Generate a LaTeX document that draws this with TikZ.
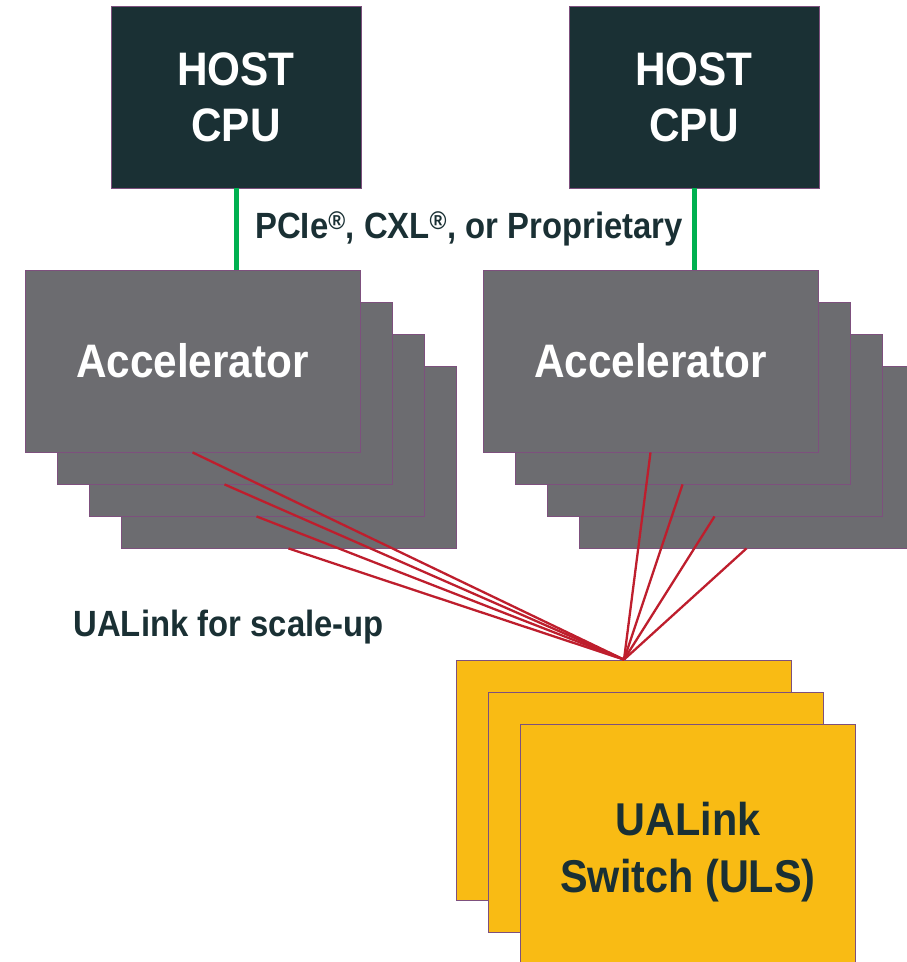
\documentclass[tikz,border=0pt]{standalone}
\usepackage{fontspec}
\newfontfamily\diagfont{Liberation Sans}[FakeStretch=0.9]
\usepackage{tikz}
\usetikzlibrary{positioning,calc}
\definecolor{hostteal}{RGB}{26,48,52}
\definecolor{accgray}{RGB}{108,108,112}
\definecolor{ulsyellow}{RGB}{249,187,20}
\definecolor{linkred}{RGB}{190,30,45}
\definecolor{pciegreen}{RGB}{0,176,80}
\definecolor{edgeplum}{RGB}{125,80,125}
\tikzset{
    host/.style={draw=edgeplum, line width=0.8pt, fill=hostteal, text=white, minimum width=250pt, minimum height=182pt, align=center, font=\diagfont\bfseries\fontsize{47}{56}\selectfont},
    accel/.style={draw=edgeplum, line width=0.8pt, fill=accgray, text=white, minimum width=335pt, minimum height=182pt, font=\diagfont\bfseries\fontsize{47}{50}\selectfont},
    uls/.style={draw=edgeplum, line width=0.8pt, fill=ulsyellow, text=hostteal, minimum width=335pt, minimum height=240pt, align=center, font=\diagfont\bfseries\fontsize{46}{57}\selectfont},
    pcie/.style={draw=pciegreen, line width=5pt},
    ualink/.style={draw=linkred, line width=2.3pt},
    caption/.style={text=hostteal, font=\diagfont\bfseries\fontsize{36.5}{40}\selectfont}
}
\begin{document}
\begin{tikzpicture}[x=1pt, y=-1pt]
    \useasboundingbox (0,0) rectangle (907,962);
    \clip (0,0) rectangle (907,962);

    % host CPUs
    \node[host] (hostL) at (236,97) {HOST\\CPU};
    \node[host] (hostR) at (694,97) {HOST\\CPU};

    % left accelerator stack (back to front)
    \node[accel] (accL4) at (288.5,457) {};
    \node[accel] (accL3) at (256.5,425) {};
    \node[accel] (accL2) at (224.5,393) {};
    \node[accel] (accL1) at (192.5,361) {\raisebox{-3pt}{Accelerator}};

    % right accelerator stack
    \node[accel] (accR4) at (746.5,457) {};
    \node[accel] (accR3) at (714.5,425) {};
    \node[accel] (accR2) at (682.5,393) {};
    \node[accel] (accR1) at (650.5,361) {\raisebox{-3pt}{Accelerator}};

    % switch stack
    \node[uls] (uls1) at (624,780) {};
    \node[uls] (uls2) at (656,812) {};
    \node[uls] (uls3) at (688,844) {};
    \node[uls, draw=none, fill=none] (ulstext) at (688,852) {UALink\\Switch (ULS)};
    \coordinate (hub) at (uls1.north);

    % host links
    \draw[pcie] (hostL.south) -- (hostL.south |- accL1.north);
    \draw[pcie] (hostR.south) -- (hostR.south |- accR1.north);
    \node[caption] (pcielbl) at (469,229) {PCIe\textsuperscript{®}, CXL\textsuperscript{®}, or Proprietary};

    % scale-up links
    \draw[ualink] (accL1.south) -- (hub);
    \draw[ualink] (accL2.south) -- (hub);
    \draw[ualink] (accL3.south) -- (hub);
    \draw[ualink] (accL4.south) -- (hub);
    \draw[ualink] (accR1.south) -- (hub);
    \draw[ualink] (accR2.south) -- (hub);
    \draw[ualink] (accR3.south) -- (hub);
    \draw[ualink] (accR4.south) -- (hub);
    \node[caption, anchor=west] (scalelbl) at (70,627) {UALink for scale-up};
\end{tikzpicture}
\end{document}
